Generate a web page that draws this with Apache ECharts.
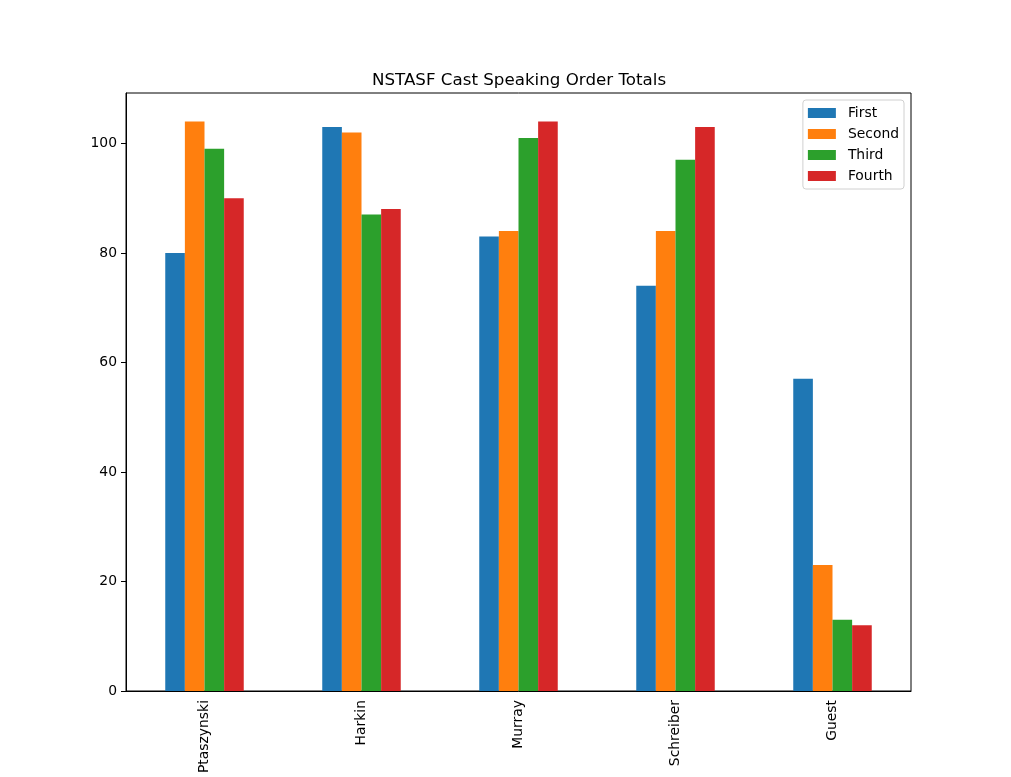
<!DOCTYPE html>
<html>
<head>
<meta charset="utf-8">
<script src="https://cdn.jsdelivr.net/npm/echarts@6/dist/echarts.min.js"></script>
<style>
  html, body { margin: 0; padding: 0; background: #fff; }
  #chart { width: 1011px; height: 777px; }
</style>
</head>
<body>
<div id="chart"></div>
<script>
const cast = ['Ptaszynski', 'Harkin', 'Murray', 'Schreiber', 'Guest'];
const first = [80, 103, 83, 74, 57];
const second = [104, 102, 84, 84, 23];
const third = [99, 87, 101, 97, 13];
const fourth = [90, 88, 104, 103, 12];
const yTicks = [0, 20, 40, 60, 80, 100];

const font = 'DejaVu Sans';
const colors = ['#1f77b4', '#ff7f0e', '#2ca02c', '#d62728'];

const chart = echarts.init(document.getElementById('chart'));

function bar(name, data) {
  return {
    name: name,
    type: 'bar',
    data: data,
    barWidth: '12.5%',
    barGap: '0%',
    animation: false
  };
}

chart.setOption({
  color: colors,
  animation: false,
  title: {
    text: 'NSTASF Cast Speaking Order Totals',
    left: 514,
    top: 67,
    textAlign: 'center',
    textStyle: { fontFamily: font, fontSize: 16.7, fontWeight: 'normal', color: '#000' }
  },
  legend: {
    orient: 'vertical',
    right: 107,
    top: 100,
    itemWidth: 28,
    itemHeight: 10,
    itemGap: 7,
    padding: [6, 5, 6, 5],
    backgroundColor: '#fff',
    borderColor: '#d0d0d0',
    borderWidth: 1,
    borderRadius: 3,
    icon: 'rect',
    textStyle: { fontFamily: font, fontSize: 13.9, color: '#000', lineHeight: 14, padding: [0, 0, 0, 7] },
    data: ['First', 'Second', 'Third', 'Fourth']
  },
  grid: {
    left: 126, right: 100, top: 93, bottom: 86,
    show: true, borderColor: '#000', borderWidth: 1
  },
  xAxis: {
    type: 'category',
    data: cast,
    boundaryGap: true,
    axisLine: { lineStyle: { color: '#000', width: 1 } },
    axisTick: { alignWithLabel: true, length: 5, lineStyle: { color: '#000' } },
    axisLabel: { rotate: 90, margin: 9, fontFamily: font, fontSize: 13.9, color: '#000' },
    splitLine: { show: false }
  },
  yAxis: {
    type: 'value',
    min: 0,
    max: 109.2,
    interval: 20,
    axisLine: { show: true, lineStyle: { color: '#000', width: 1 } },
    axisTick: { show: true, length: 5, lineStyle: { color: '#000' }, customValues: yTicks },
    axisLabel: { margin: 9, fontFamily: font, fontSize: 13.9, color: '#000', customValues: yTicks },
    splitLine: { show: false }
  },
  series: [
    bar('First', first),
    bar('Second', second),
    bar('Third', third),
    bar('Fourth', fourth)
  ]
});
</script>
</body>
</html>
